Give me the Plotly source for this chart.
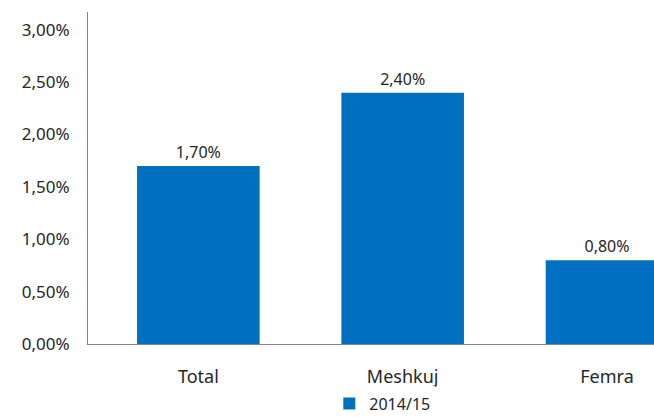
import plotly.graph_objects as go

categories = ["Total", "Meshkuj", "Femra"]
values = [0.017, 0.024, 0.008]
series_name = "2014/15"

fig = go.Figure(
    go.Bar(
        x=categories,
        y=values,
        name=series_name,
        marker=dict(color="#0070C0", line=dict(width=0)),
        texttemplate="%{y:.2%}",
        textposition="outside",
        textfont=dict(family="Noto Sans", size=16, color="#262626"),
        cliponaxis=False,
        showlegend=True,
    )
)

fig.update_layout(
    width=654,
    height=417,
    # keep the plot area fixed, the legend must not push the margins
    margin=dict(l=88, r=0, t=12, b=73, autoexpand=False),
    plot_bgcolor="white",
    paper_bgcolor="white",
    separators=", ",
    bargap=0.40,
    font=dict(family="Noto Sans", color="#262626"),
    legend=dict(
        orientation="h",
        x=0.52,
        xanchor="center",
        y=-0.128,
        yanchor="top",
        itemwidth=30,
        font=dict(size=16, color="#262626"),
    ),
)

fig.update_xaxes(
    range=[-0.54, 2.23],
    showline=True,
    linecolor="#868686",
    linewidth=1,
    showgrid=False,
    ticks="",
    ticklabelstandoff=16,
    tickfont=dict(size=18, color="#262626"),
)
fig.update_yaxes(
    range=[0, 0.0317],
    dtick=0.005,
    tickformat=".2%",
    showline=True,
    linecolor="#868686",
    linewidth=1,
    showgrid=False,
    zeroline=False,
    ticks="",
    ticklabelstandoff=14,
    tickfont=dict(size=17, color="#262626"),
)

# drop the default body margin so the figure sits at the page corner
fig.write_html(
    "out.html",
    config={"displayModeBar": False},
    post_script="document.body.style.margin='0';",
)
